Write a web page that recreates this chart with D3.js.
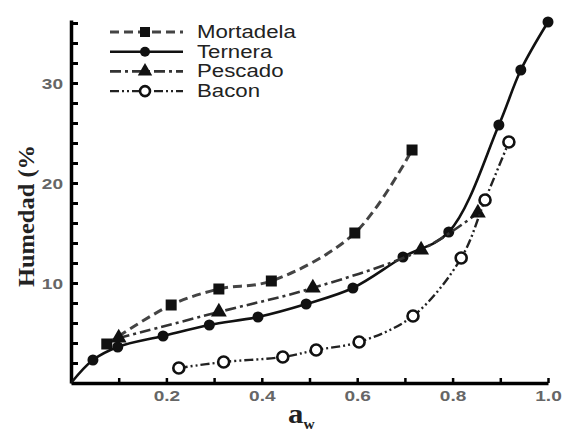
<!DOCTYPE html>
<html>
<head>
<meta charset="utf-8">
<script src="https://cdn.jsdelivr.net/npm/d3@7/dist/d3.min.js"></script>
<style>
  body { margin: 0; background: #fff; }
  svg { display: block; }
</style>
</head>
<body>
<div id="chart"></div>
<script>
// data
let awMortadela = [0.075, 0.21, 0.31, 0.42, 0.595, 0.715];
let humMortadela = [3.9, 7.8, 9.4, 10.2, 15.0, 23.3];

let awTernera = [0, 0.046, 0.098, 0.193, 0.29, 0.392, 0.493, 0.591, 0.696, 0.792, 0.897, 0.943, 1.0];
let humTernera = [0, 2.3, 3.6, 4.7, 5.8, 6.6, 7.9, 9.5, 12.6, 15.1, 25.8, 31.3, 36.1];

let awPescado = [0.1, 0.31, 0.507, 0.734, 0.853];
let humPescado = [4.5, 7.1, 9.5, 13.3, 17.0];

let awBacon = [0.226, 0.32, 0.444, 0.514, 0.604, 0.717, 0.818, 0.868, 0.918];
let humBacon = [1.5, 2.1, 2.6, 3.3, 4.1, 6.7, 12.5, 18.3, 24.1];

let seriesNames = ['Mortadela', 'Ternera', 'Pescado', 'Bacon'];
let xTickLabels = [0.2, 0.4, 0.6, 0.8, 1.0];
let yTickLabels = [10, 20, 30];

let width = 572, height = 436;
let stretch = 1.27; // the picture is widened, text too

let series = [
  { name: seriesNames[0], aw: awMortadela, hum: humMortadela, marker: 'square', dash: '9,5', color: '#444', stroke: 3, skipFirst: false },
  { name: seriesNames[1], aw: awTernera, hum: humTernera, marker: 'circle', dash: null, color: '#111', stroke: 2.6, skipFirst: true },
  { name: seriesNames[2], aw: awPescado, hum: humPescado, marker: 'triangle', dash: '11,4,3,4', color: '#333', stroke: 2.6, skipFirst: false },
  { name: seriesNames[3], aw: awBacon, hum: humBacon, marker: 'open', dash: '9,3,2,3,2,3', color: '#222', stroke: 2.4, skipFirst: false }
];

let xScale = d3.scaleLinear().domain([0, 1]).range([71, 548]);
let yScale = d3.scaleLinear().domain([0, 36.3]).range([383, 20]);

let svg = d3.select('#chart').append('svg')
  .attr('width', width)
  .attr('height', height);

// widen a text node to match the stretched picture
function widen(sel) {
  sel.each(function() {
    let w = this.getComputedTextLength();
    d3.select(this)
      .attr('textLength', w * stretch)
      .attr('lengthAdjust', 'spacingAndGlyphs');
  });
}

// x axis, ticks pointing up
let xAxis = svg.append('g')
  .attr('class', 'xaxis')
  .attr('transform', `translate(0, ${yScale(0)})`)
  .call(d3.axisBottom(xScale)
    .tickValues(d3.range(1, 11).map(v => v / 10))
    .tickSizeInner(-5)
    .tickSizeOuter(0)
    .tickFormat(v => xTickLabels.some(t => Math.abs(t - v) < 1e-6) ? v.toFixed(1) : ''));
xAxis.select('.domain').attr('stroke', '#000').attr('stroke-width', 3.5);
xAxis.selectAll('.tick line').attr('stroke', '#000').attr('stroke-width', 2.5);
xAxis.selectAll('.tick text')
  .attr('y', 18)
  .attr('dy', 0)
  .attr('font-family', 'Arial, "Liberation Sans", sans-serif')
  .attr('font-weight', 'bold')
  .attr('font-size', 15)
  .attr('fill', '#666')
  .call(widen);

// y axis, ticks pointing right
let yAxis = svg.append('g')
  .attr('class', 'yaxis')
  .attr('transform', `translate(${xScale(0)}, 0)`)
  .call(d3.axisLeft(yScale)
    .tickValues(d3.range(2, 37, 2))
    .tickSizeInner(-7)
    .tickSizeOuter(0)
    .tickFormat(v => yTickLabels.includes(v) ? v : ''));
yAxis.select('.domain').attr('stroke', '#000').attr('stroke-width', 3.5);
yAxis.selectAll('.tick line').attr('stroke', '#000').attr('stroke-width', 3);
yAxis.selectAll('.tick text')
  .attr('x', -8)
  .attr('dy', '0.35em')
  .attr('text-anchor', 'end')
  .attr('font-family', 'Arial, "Liberation Sans", sans-serif')
  .attr('font-weight', 'bold')
  .attr('font-size', 15)
  .attr('fill', '#666')
  .call(widen);

// axis titles
svg.append('text')
  .attr('transform', `translate(34, 216) rotate(-90)`)
  .attr('text-anchor', 'middle')
  .attr('font-family', '"Liberation Serif", "DejaVu Serif", serif')
  .attr('font-weight', 'bold')
  .attr('font-size', 23)
  .attr('fill', '#222')
  .attr('textLength', 142)
  .attr('lengthAdjust', 'spacingAndGlyphs')
  .text('Humedad (%');

let xTitle = svg.append('text')
  .attr('transform', `translate(288, 423) scale(1.1,1)`)
  .attr('font-family', '"Liberation Serif", "DejaVu Serif", serif')
  .attr('font-weight', 'bold')
  .attr('font-size', 28)
  .attr('fill', '#222');
xTitle.append('tspan').text('a');
xTitle.append('tspan').attr('font-size', 14).attr('dy', 6).text('w');

// marker drawing
function drawMarker(g, type, color, size) {
  if (type === 'circle') {
    g.append('circle').attr('r', size * 0.5).attr('fill', color);
  } else if (type === 'open') {
    g.append('circle').attr('r', size * 0.5).attr('fill', '#fff').attr('stroke', color).attr('stroke-width', 2.6);
  } else if (type === 'square') {
    g.append('path').attr('d', d3.symbol(d3.symbolSquare, size * size)()).attr('fill', color);
  } else if (type === 'triangle') {
    g.append('path').attr('d', d3.symbol(d3.symbolTriangle, size * size * 0.9)()).attr('fill', color);
  }
}

let line = d3.line()
  .x(d => xScale(d[0]))
  .y(d => yScale(d[1]))
  .curve(d3.curveCatmullRom.alpha(0.5));

series.forEach(s => {
  let pts = s.aw.map((a, i) => [a, s.hum[i]]);
  svg.append('path')
    .datum(pts)
    .attr('fill', 'none')
    .attr('stroke', s.color)
    .attr('stroke-width', s.stroke)
    .attr('stroke-dasharray', s.dash)
    .attr('d', line);

  let markerPts = s.skipFirst ? pts.slice(1) : pts;
  svg.selectAll(null)
    .data(markerPts)
    .enter()
    .append('g')
    .attr('transform', d => `translate(${xScale(d[0])}, ${yScale(d[1])})`)
    .each(function() { drawMarker(d3.select(this), s.marker, '#111', 11); });
});

// legend
let legend = svg.append('g').attr('class', 'legend');
let legendRows = legend.selectAll('g')
  .data(series)
  .enter()
  .append('g')
  .attr('transform', (d, i) => `translate(110, ${32 + i * 19.7})`);

legendRows.append('line')
  .attr('x1', 0).attr('x2', 73)
  .attr('y1', 0).attr('y2', 0)
  .attr('stroke', d => d.color)
  .attr('stroke-width', d => d.stroke)
  .attr('stroke-dasharray', d => d.dash);

legendRows.append('g')
  .attr('transform', 'translate(35, 0)')
  .each(function(d) { drawMarker(d3.select(this), d.marker, '#111', 10); });

legendRows.append('text')
  .attr('x', 87)
  .attr('y', 6)
  .attr('font-family', 'Arial, "Liberation Sans", sans-serif')
  .attr('font-size', 17.5)
  .attr('fill', '#222')
  .text(d => d.name)
  .call(widen);
</script>
</body>
</html>
